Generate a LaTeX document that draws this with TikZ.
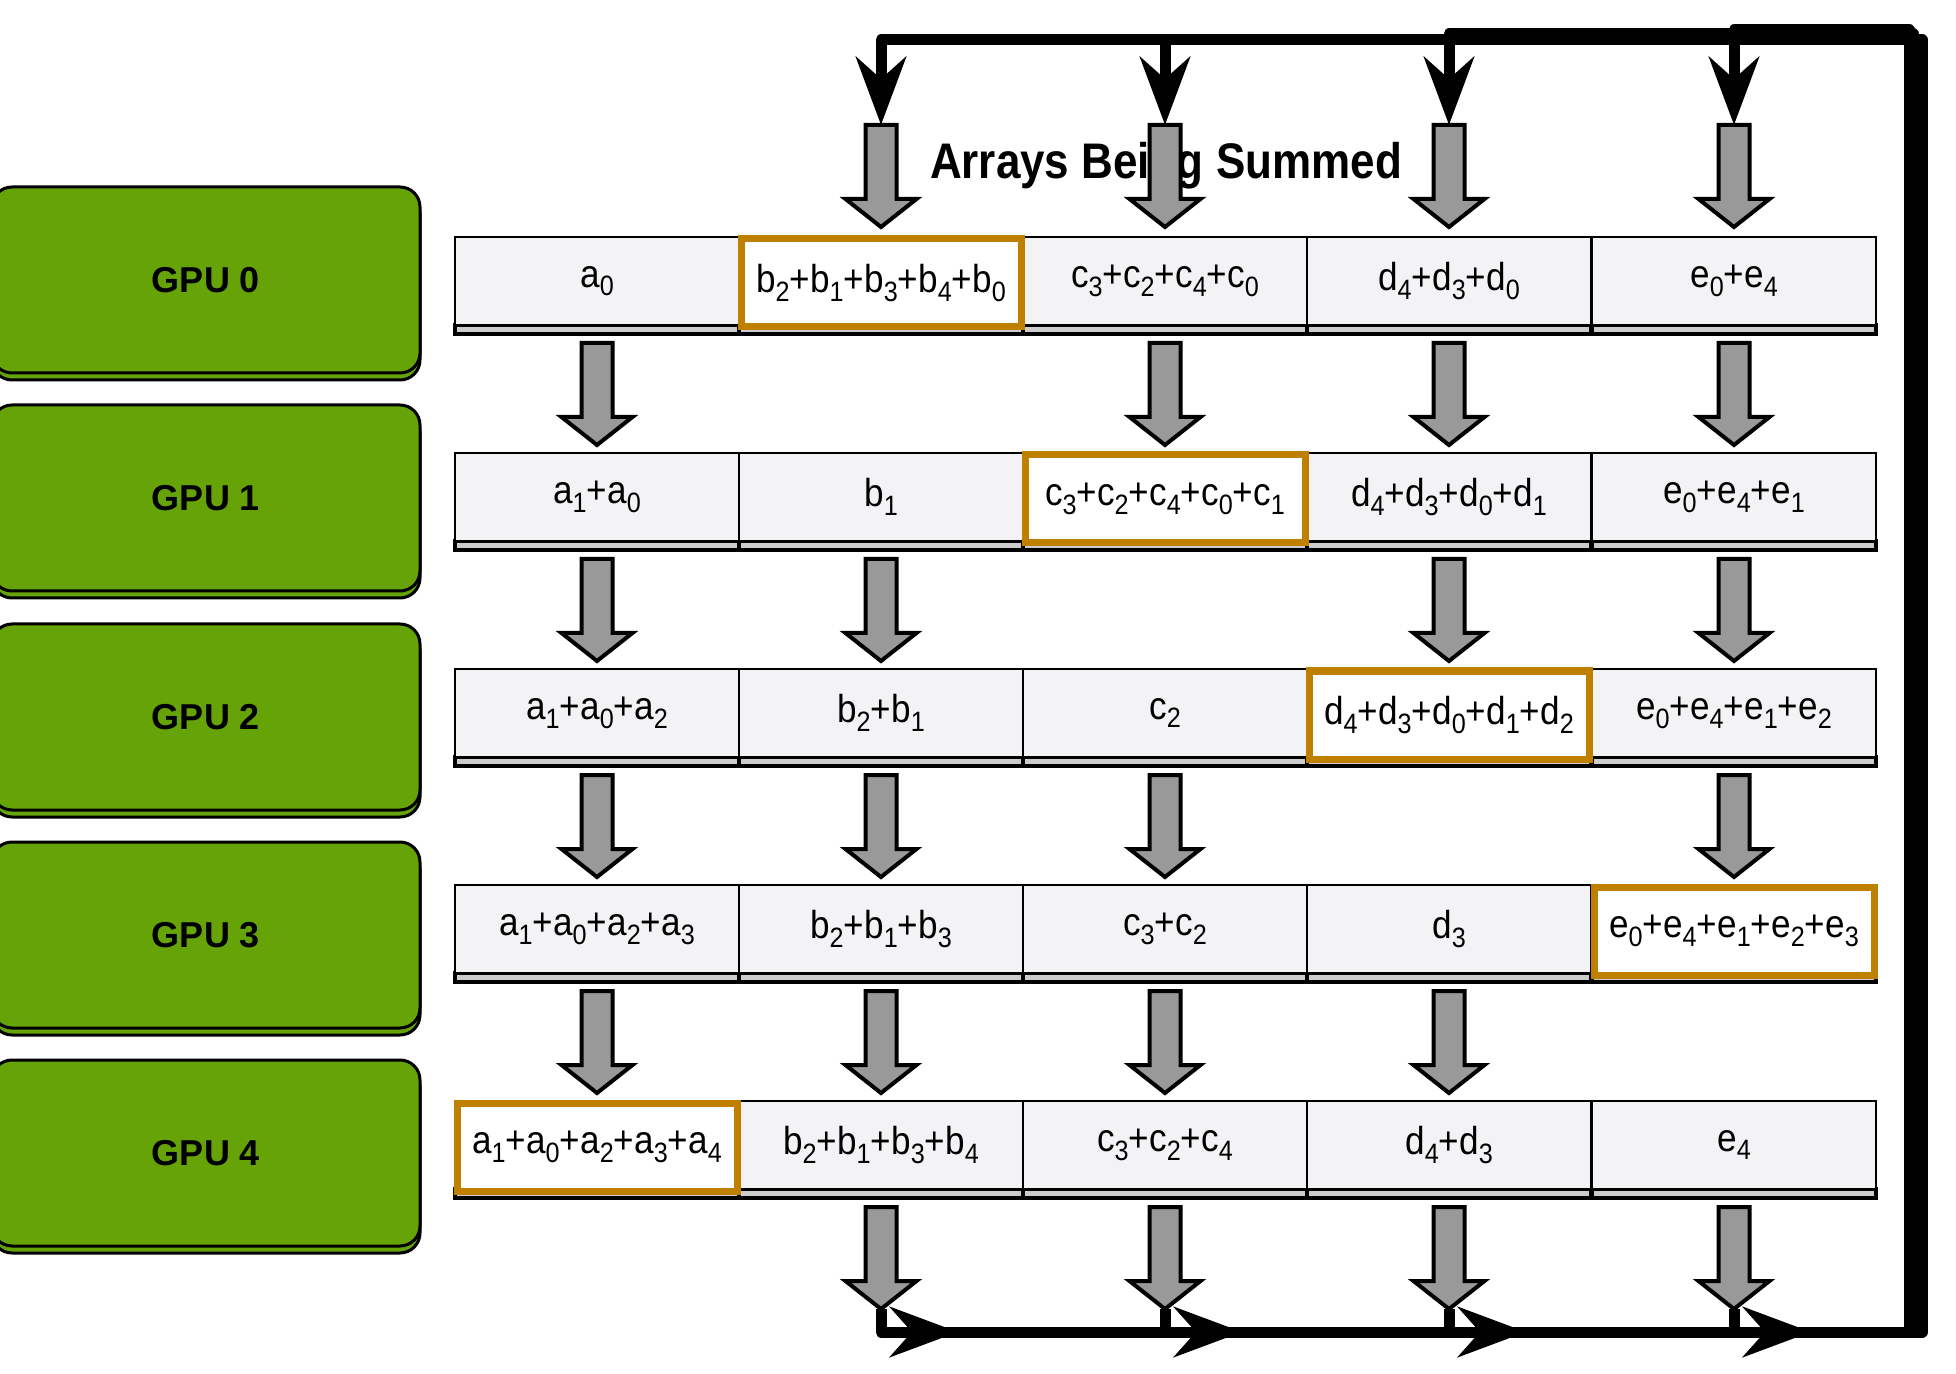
\documentclass[tikz,border=0pt]{standalone}
\usepackage{fontspec}
\setmainfont{Liberation Sans}
\newfontfamily\cellfont{Liberation Sans}[FakeStretch=0.9]
\newfontfamily\titlefont{Liberation Sans}[FakeStretch=0.88]
\usetikzlibrary{arrows.meta}
\definecolor{gpugreen}{RGB}{102,163,6}
\definecolor{cellgray}{RGB}{243,243,245}
\definecolor{doneorange}{RGB}{191,128,0}
\definecolor{arrowgray}{RGB}{153,153,153}
\newcommand{\ix}[1]{\raisebox{-0.22em}{\fontsize{14}{14}\selectfont #1}}
\tikzset{garrow/.pic={
    \draw [black,fill=arrowgray,line width=2pt] (-15.5,0) -- (15.5,0) -- (15.5,74) -- (35.5,74) -- (0,102) -- (-35.5,74) -- (-15.5,74) -- cycle;
    \coordinate (-tail) at (0,0);
    \coordinate (-tip) at (0,102);
}}
\begin{document}
\begin{tikzpicture}[x=0.5pt,y=-0.5pt]
        \tikzstyle{gpu}=[rectangle,rounded corners=10pt,draw=black,line width=1.5pt,fill=gpugreen,minimum width=214pt,minimum height=93pt,font=\bfseries\fontsize{18}{20}\selectfont,preaction={draw=black,fill=gpugreen,line width=1.5pt,transform canvas={yshift=-3.5pt}}]
        \tikzstyle{cell}=[rectangle,draw=black,line width=1.2pt,fill=cellgray,minimum width=142pt,minimum height=44pt,inner sep=0pt,font=\cellfont\fontsize{19.5}{22}\selectfont]
        \tikzstyle{done}=[cell,draw=doneorange,fill=white,line width=3.5pt,minimum width=140pt,yshift=-1pt]
        \tikzstyle{band}=[draw=black,line width=2.2pt,fill=black!20]
        \tikzstyle{ring}=[draw,line width=5.5pt,line join=round,-{Stealth[length=34pt,width=25pt,inset=11pt]}]
        \useasboundingbox (0,0) rectangle (1956,1374);

        % gpus
        \node [gpu] (gpu0) at (206,280) {GPU 0};
        \node [gpu] (gpu1) at (206,498) {GPU 1};
        \node [gpu] (gpu2) at (206,717) {GPU 2};
        \node [gpu] (gpu3) at (206,935) {GPU 3};
        \node [gpu] (gpu4) at (206,1153) {GPU 4};

        \node [font=\titlefont\bfseries\fontsize{25}{30}\selectfont] (title) at (1166,166) {Arrays Being Summed};

        \foreach \t in {237,453,669,885,1101}
          \foreach \x in {455,739,1023,1307,1592}
            \draw [band] (\x,\t+88) rectangle ++(284,9);

        % row 0
        \node [cell] (r0a) at (597,281) {a\ix{0}};
        \node [cell] (r0c) at (1165,281) {c\ix{3}+c\ix{2}+c\ix{4}+c\ix{0}};
        \node [cell] (r0d) at (1449,281) {d\ix{4}+d\ix{3}+d\ix{0}};
        \node [cell] (r0e) at (1734,281) {e\ix{0}+e\ix{4}};
        \node [done] (r0b) at (881,281) {b\ix{2}+b\ix{1}+b\ix{3}+b\ix{4}+b\ix{0}};
        % row 1
        \node [cell] (r1a) at (597,497) {a\ix{1}+a\ix{0}};
        \node [cell] (r1b) at (881,497) {b\ix{1}};
        \node [cell] (r1d) at (1449,497) {d\ix{4}+d\ix{3}+d\ix{0}+d\ix{1}};
        \node [cell] (r1e) at (1734,497) {e\ix{0}+e\ix{4}+e\ix{1}};
        \node [done] (r1c) at (1165,497) {c\ix{3}+c\ix{2}+c\ix{4}+c\ix{0}+c\ix{1}};
        % row 2
        \node [cell] (r2a) at (597,713) {a\ix{1}+a\ix{0}+a\ix{2}};
        \node [cell] (r2b) at (881,713) {b\ix{2}+b\ix{1}};
        \node [cell] (r2c) at (1165,713) {c\ix{2}};
        \node [cell] (r2e) at (1734,713) {e\ix{0}+e\ix{4}+e\ix{1}+e\ix{2}};
        \node [done] (r2d) at (1449,713) {d\ix{4}+d\ix{3}+d\ix{0}+d\ix{1}+d\ix{2}};
        % row 3
        \node [cell] (r3a) at (597,929) {a\ix{1}+a\ix{0}+a\ix{2}+a\ix{3}};
        \node [cell] (r3b) at (881,929) {b\ix{2}+b\ix{1}+b\ix{3}};
        \node [cell] (r3c) at (1165,929) {c\ix{3}+c\ix{2}};
        \node [cell] (r3d) at (1449,929) {d\ix{3}};
        \node [done] (r3e) at (1734,929) {e\ix{0}+e\ix{4}+e\ix{1}+e\ix{2}+e\ix{3}};
        % row 4
        \node [cell] (r4b) at (881,1145) {b\ix{2}+b\ix{1}+b\ix{3}+b\ix{4}};
        \node [cell] (r4c) at (1165,1145) {c\ix{3}+c\ix{2}+c\ix{4}};
        \node [cell] (r4d) at (1449,1145) {d\ix{4}+d\ix{3}};
        \node [cell] (r4e) at (1734,1145) {e\ix{4}};
        \node [done] (r4a) at (597,1145) {a\ix{1}+a\ix{0}+a\ix{2}+a\ix{3}+a\ix{4}};

        % gray arrows
        \pic (in-b) at (881,125) {garrow};
        \pic (in-c) at (1165,125) {garrow};
        \pic (in-d) at (1449,125) {garrow};
        \pic (in-e) at (1734,125) {garrow};

        \pic (ar0a) at (597,343) {garrow};
        \pic (ar0c) at (1165,343) {garrow};
        \pic (ar0d) at (1449,343) {garrow};
        \pic (ar0e) at (1734,343) {garrow};

        \pic (ar1a) at (597,559) {garrow};
        \pic (ar1b) at (881,559) {garrow};
        \pic (ar1d) at (1449,559) {garrow};
        \pic (ar1e) at (1734,559) {garrow};

        \pic (ar2a) at (597,775) {garrow};
        \pic (ar2b) at (881,775) {garrow};
        \pic (ar2c) at (1165,775) {garrow};
        \pic (ar2e) at (1734,775) {garrow};

        \pic (ar3a) at (597,991) {garrow};
        \pic (ar3b) at (881,991) {garrow};
        \pic (ar3c) at (1165,991) {garrow};
        \pic (ar3d) at (1449,991) {garrow};

        \pic (out-b) at (881,1207) {garrow};
        \pic (out-c) at (1165,1207) {garrow};
        \pic (out-d) at (1449,1207) {garrow};
        \pic (out-e) at (1734,1207) {garrow};

        % ring back to the top
        \coordinate (base) at (0,1332);
        \coordinate (turnb) at (1922,40);
        \coordinate (turnc) at (1918,40);
        \coordinate (turnd) at (1913,34);
        \coordinate (turne) at (1909,30);

        \path[ring] (out-b-tip) -- (out-b-tip |- base) -| (turnb) -| (in-b-tail);
        \path[ring] (out-c-tip) -- (out-c-tip |- base) -| (turnc) -| (in-c-tail);
        \path[ring] (out-d-tip) -- (out-d-tip |- base) -| (turnd) -| (in-d-tail);
        \path[ring] (out-e-tip) -- (out-e-tip |- base) -| (turne) -| (in-e-tail);

        \path[ring] (out-b-tip |- base) -- ++(77,0);
        \path[ring] (out-c-tip |- base) -- ++(77,0);
        \path[ring] (out-d-tip |- base) -- ++(77,0);
        \path[ring] (out-e-tip |- base) -- ++(77,0);
\end{tikzpicture}
\end{document}
